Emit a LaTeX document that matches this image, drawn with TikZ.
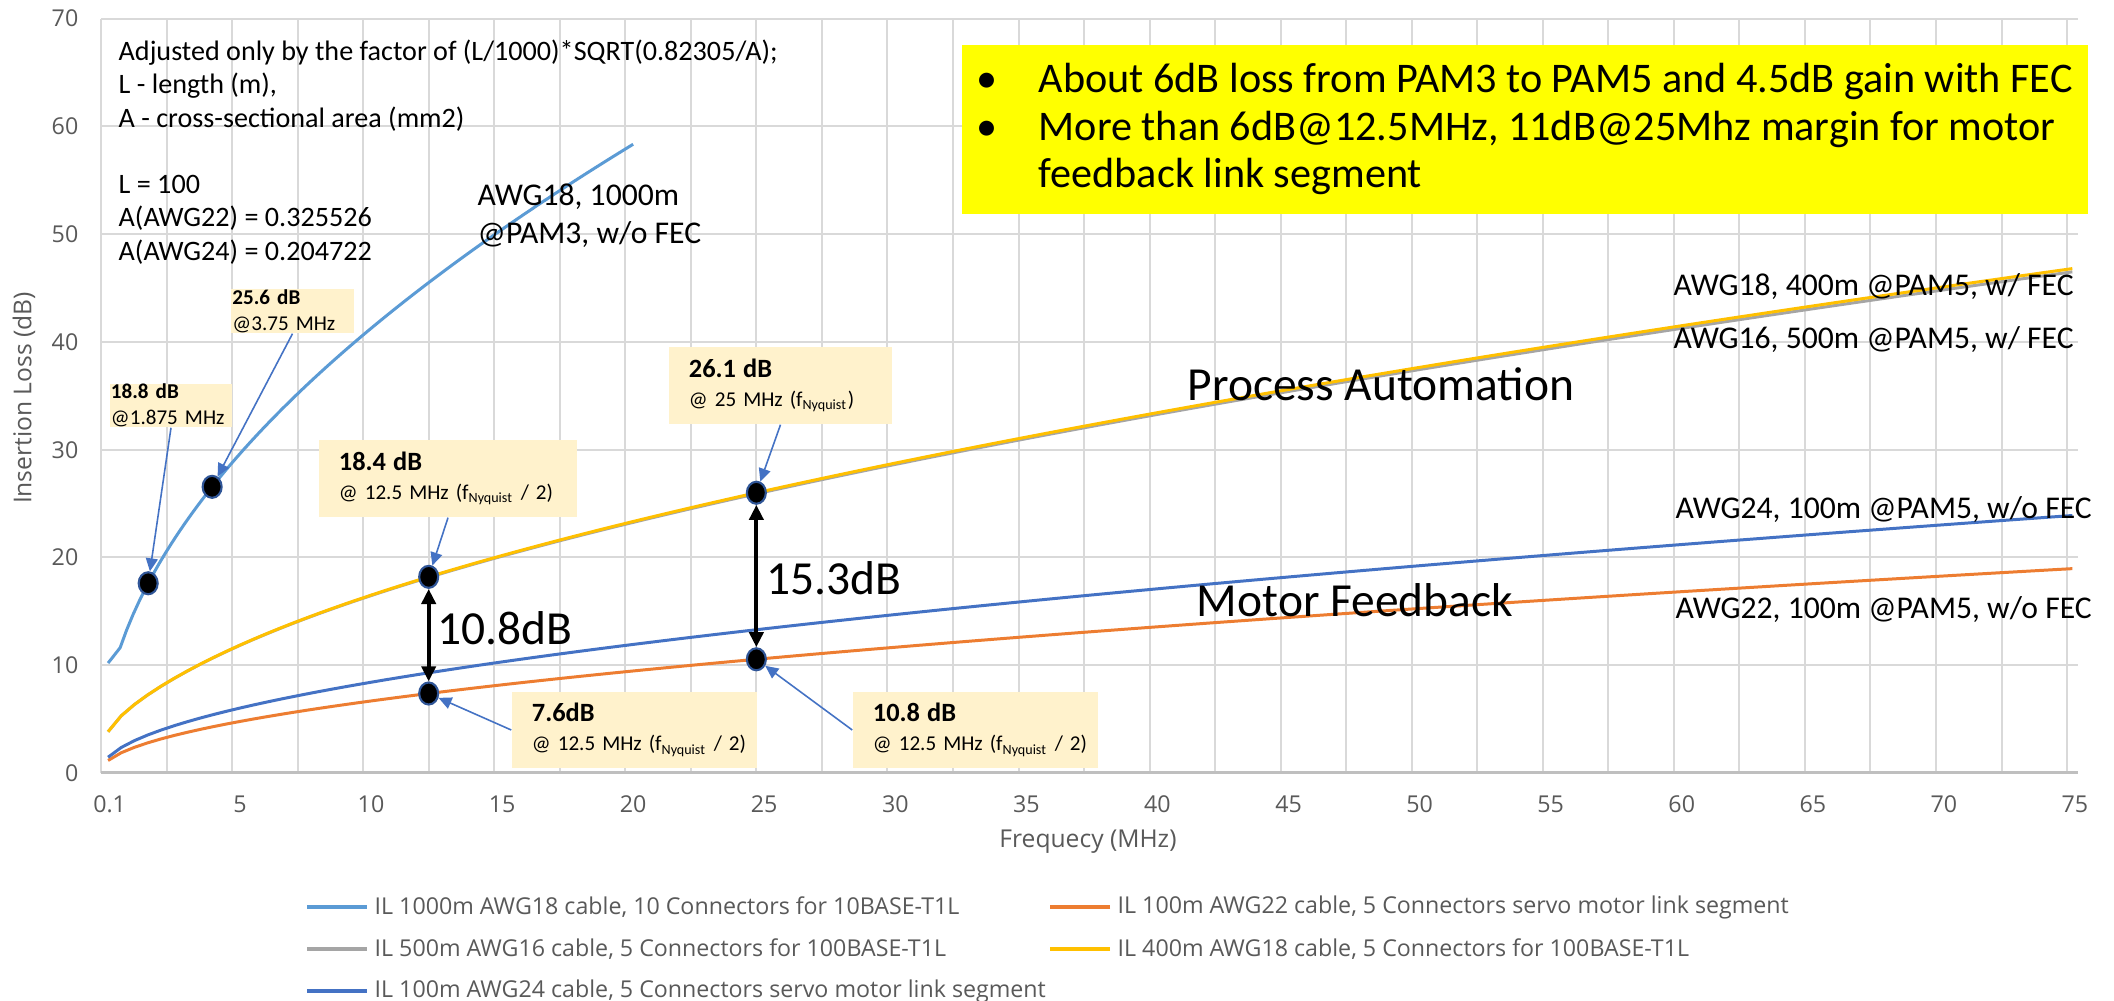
\documentclass[tikz,border=0pt]{standalone}
\usepackage{fontspec}
\setmainfont{Carlito}
\newfontfamily\axisfont{Open Sans}
\usetikzlibrary{arrows.meta, shapes.geometric}

\definecolor{gridgray}{HTML}{D9D9D9}
\definecolor{axisgray}{HTML}{BFBFBF}
\definecolor{labelgray}{HTML}{595959}
\definecolor{serlblue}{HTML}{5B9BD5}
\definecolor{serorange}{HTML}{ED7D31}
\definecolor{sergray}{HTML}{A5A5A5}
\definecolor{sergold}{HTML}{FFC000}
\definecolor{serblue}{HTML}{4472C4}
\definecolor{calloutfill}{HTML}{FFF2CC}
\definecolor{keyyellow}{HTML}{FFFF00}
\definecolor{dotrim}{HTML}{2F5597}

\newcommand{\fnyq}{f\textsubscript{\fontsize{4}{4}\selectfont Nyquist}}

\begin{document}
\begin{tikzpicture}[
    x=0.01cm, y=-0.01cm,
    declare function={ilpa(\x)=0.53+4.766*sqrt(\x)+0.0658*\x; ilmf(\x)=0.17+2.474*sqrt(\x)+0.0302*\x;},
    grid_line/.style={draw=gridgray, line width=0.57pt},
    axis_line/.style={draw=axisgray, line width=0.85pt},
    tick_lbl/.style={font=\axisfont\fontsize{6.6}{8}\selectfont, text=labelgray, inner sep=0},
    axis_title/.style={font=\axisfont\fontsize{7}{8}\selectfont, text=labelgray, inner sep=0},
    curve/.style={line width=0.85pt, line join=round},
    dot/.style={ellipse, fill=black, draw=dotrim, line width=0.6pt, minimum width=0.19cm, minimum height=0.22cm, inner sep=0},
    callout/.style={fill=calloutfill, inner xsep=0.2cm, inner ysep=0, align=left, font=\fontsize{6}{8.3}\selectfont},
    callout_sm/.style={fill=calloutfill, inner xsep=0.01cm, inner ysep=0, align=left, text width=1.2cm, font=\fontsize{6}{7.4}\selectfont},
    call_arrow/.style={-{Triangle[length=3.7pt, width=3.4pt]}, draw=serblue, line width=0.45pt},
    gap_arrow/.style={{Triangle[length=4.3pt, width=4pt]}-{Triangle[length=4.3pt, width=4pt]}, line width=1.15pt},
    gap_lbl/.style={font=\fontsize{13.5}{15}\selectfont, inner sep=0, anchor=west},
    seg_lbl/.style={font=\fontsize{13.5}{15}\selectfont, inner sep=0},
    crv_lbl/.style={font=\fontsize{9}{10.8}\selectfont, inner sep=0, anchor=west, align=left},
    note_txt/.style={font=\fontsize{8}{9.47}\selectfont, inner sep=0, anchor=west, align=left},
    key_box/.style={fill=keyyellow, inner sep=0, anchor=north west},
    key_txt/.style={font=\fontsize{12}{13.5}\selectfont, inner sep=0, anchor=west, align=left},
    legend_lbl/.style={font=\axisfont\fontsize{6.6}{8}\selectfont, text=labelgray, inner sep=0, anchor=west},
    legend_line/.style={line width=0.9pt}
]

\fill[white] (0,0) rectangle (2114,1001);
\useasboundingbox (0,0) rectangle (2114,1001);

% Plot area (MHz / dB)
\begin{scope}[shift={(101,773)}, x=0.262cm, y=0.1077cm]
\foreach \g in {0,2.5,...,75} \draw[grid_line] (\g,0) -- (\g,70);
\foreach \d in {10,20,...,70} \draw[grid_line] (0,\d) -- (75.42,\d);
\draw[axis_line] (0,0) -- (75.42,0);

\node[tick_lbl] (xt0) at (0.33,-2.88) {0.1};
\foreach \v in {5,10,...,75} \node[tick_lbl] (xt\v) at ({\v+0.3},-2.88) {\v};
\foreach \v in {0,10,...,70} \node[tick_lbl, anchor=east] (yt\v) at (-0.84,\v) {\v};

% Insertion loss curves
\draw[curve, serlblue] (0.27,10.2) -- plot[domain=0.73:20.3, samples=80] (\x,{2.5*ilpa(\x)});
\draw[curve, serorange] plot[domain=0.27:75.2, samples=150] (\x,{ilmf(\x)/1.26});
\draw[curve, sergray] plot[domain=0.27:75.2, samples=150] (\x,{ilpa(\x)-0.004*\x+exp(-0.8*\x)});
\draw[curve, sergold] plot[domain=0.27:75.2, samples=150] (\x,{ilpa(\x)+exp(-0.8*\x)});
\draw[curve, serblue] plot[domain=0.27:75.2, samples=150] (\x,{ilmf(\x)});

% Marked points
\node[dot] (dA) at (1.8,{2.5*ilpa(1.8)}) {};
\node[dot] (dB) at (4.24,{2.5*ilpa(4.24)}) {};
\node[dot] (dC) at (12.5,{ilpa(12.5)}) {};
\node[dot] (dD) at (12.5,{ilmf(12.5)/1.26}) {};
\node[dot] (dE) at (25,{ilpa(25)}) {};
\node[dot] (dF) at (25,{ilmf(25)/1.26}) {};
\end{scope}

\node[axis_title] (xtitle) at (1088,842) {Frequecy (MHz)};
\node[axis_title, rotate=90] (ytitle) at (24,398) {Insertion Loss (dB)};

% Notes
\node[note_txt] (note) at (118,152) {Adjusted only by the factor of (L/1000)*SQRT(0.82305/A);\\L - length (m),\\A - cross-sectional area (mm2)\\[9.47pt]L = 100\\A(AWG22) = 0.325526\\A(AWG24) = 0.204722};
\node[key_box, minimum width=11.26cm, minimum height=1.69cm] (key) at (961,44) {};
\node[key_txt] (keytxt) at ([xshift=0.15cm]key.west) {\makebox[0.62cm][l]{\textbullet}About 6dB loss from PAM3 to PAM5 and 4.5dB gain with FEC\\\makebox[0.62cm][l]{\textbullet}More than 6dB@12.5MHz, 11dB@25Mhz margin for motor\\\hspace*{0.62cm}feedback link segment};

% Curve labels
\node[crv_lbl] (l1000) at (477,216) {AWG18, 1000m\\@PAM3, w/o FEC};
\node[crv_lbl] (l18) at (1673,287) {AWG18, 400m @PAM5, w/ FEC};
\node[crv_lbl] (l16) at (1673,340) {AWG16, 500m @PAM5, w/ FEC};
\node[crv_lbl] (l24) at (1675,510) {AWG24, 100m @PAM5, w/o FEC};
\node[crv_lbl] (l22) at (1675,610) {AWG22, 100m @PAM5, w/o FEC};
\node[seg_lbl] (pa) at (1381,384) {Process Automation};
\node[seg_lbl] (mf) at (1355,600) {Motor Feedback};

% Callouts
\node[callout_sm, minimum width=1.22cm, minimum height=0.43cm] (b188) at (171,405.5) {\textbf{18.8 dB}\\@1.875 MHz};
\node[callout_sm, minimum width=1.21cm, minimum height=0.44cm] (b256) at (292.5,311) {\textbf{25.6 dB}\\@3.75 MHz};
\node[callout, text width=2.18cm, minimum height=0.77cm] (b184) at (448,478.5) {{\fontsize{7.5}{8.3}\selectfont\bfseries 18.4 dB}\\\mbox{@ 12.5 MHz (\fnyq{} / 2)}};
\node[callout, text width=1.83cm, minimum height=0.77cm] (b261) at (780.5,385.5) {{\fontsize{7.5}{8.3}\selectfont\bfseries 26.1 dB}\\\mbox{@ 25 MHz (\fnyq)}};
\node[callout, text width=2.05cm, minimum height=0.76cm] (b76) at (634.5,730) {{\fontsize{7.5}{8.3}\selectfont\bfseries 7.6dB}\\\mbox{@ 12.5 MHz (\fnyq{} / 2)}};
\node[callout, text width=2.05cm, minimum height=0.76cm] (b108) at (975.5,730) {{\fontsize{7.5}{8.3}\selectfont\bfseries 10.8 dB}\\\mbox{@ 12.5 MHz (\fnyq{} / 2)}};

\draw[call_arrow] (b188.south) -- (dA);
\draw[call_arrow] (b256.south) -- (dB);
\draw[call_arrow] (b184.south) -- (dC);
\draw[call_arrow] (b261.south) -- (dE);
\draw[call_arrow] (b76.west) -- (dD);
\draw[call_arrow] (b108.west) -- (dF);

% Gaps between curves
\draw[gap_arrow] (dC) -- (dD);
\draw[gap_arrow] (dE) -- (dF);
\node[gap_lbl] (g108) at (437,628) {10.8dB};
\node[gap_lbl] (g153) at (766,578) {15.3dB};

% Legend
\node[legend_lbl] (lg1) at (374,907) {IL 1000m AWG18 cable, 10 Connectors for 10BASE-T1L};
\node[legend_lbl] (lg2) at (1117,907) {IL 100m AWG22 cable, 5 Connectors servo motor link segment};
\node[legend_lbl] (lg3) at (374,949) {IL 500m AWG16 cable, 5 Connectors for 100BASE-T1L};
\node[legend_lbl] (lg4) at (1117,949) {IL 400m AWG18 cable, 5 Connectors for 100BASE-T1L};
\node[legend_lbl] (lg5) at (374,991) {IL 100m AWG24 cable, 5 Connectors servo motor link segment};
\draw[legend_line, serlblue] ([xshift=-0.07cm]lg1.west) -- ++(-0.6cm,0);
\draw[legend_line, serorange] ([xshift=-0.07cm]lg2.west) -- ++(-0.6cm,0);
\draw[legend_line, sergray] ([xshift=-0.07cm]lg3.west) -- ++(-0.6cm,0);
\draw[legend_line, sergold] ([xshift=-0.07cm]lg4.west) -- ++(-0.6cm,0);
\draw[legend_line, serblue] ([xshift=-0.07cm]lg5.west) -- ++(-0.6cm,0);

\end{tikzpicture}
\end{document}
